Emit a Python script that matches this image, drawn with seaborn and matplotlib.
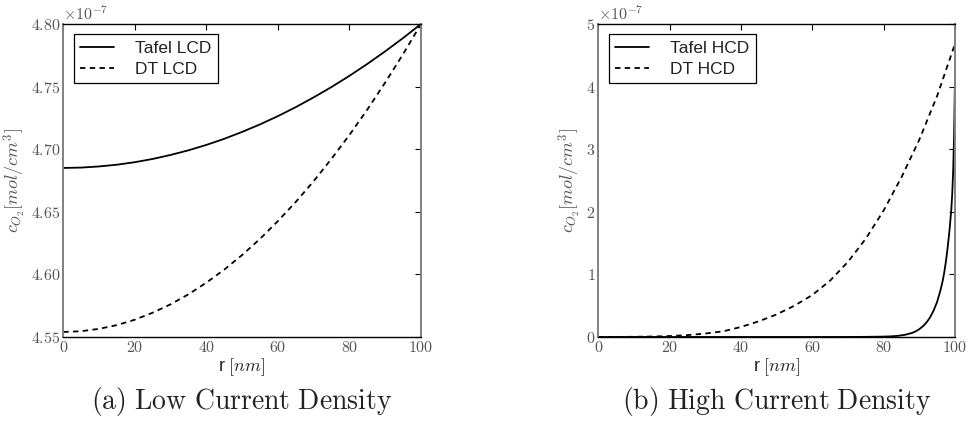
import numpy as np
import pandas as pd
import matplotlib
matplotlib.use("Agg")
import matplotlib.pyplot as plt
from matplotlib.ticker import FuncFormatter, FixedLocator
import seaborn as sns

# ---------------- data (concentration in units of 1e-7 mol/cm^3) ----------------
r_lcd = [0, 5, 10, 15, 20, 25, 30, 35, 40, 45, 50, 55, 60, 65, 70, 75, 80, 85, 90, 95, 100]
tafel_lcd = [4.6850, 4.6853, 4.6862, 4.6876, 4.6896, 4.6922, 4.6954, 4.6991, 4.7034, 4.7083,
             4.7138, 4.7198, 4.7264, 4.7336, 4.7414, 4.7497, 4.7586, 4.7681, 4.7782, 4.7888, 4.8000]
dt_lcd = [4.5540, 4.5546, 4.5565, 4.5595, 4.5638, 4.5694, 4.5761, 4.5841, 4.5934, 4.6038,
          4.6155, 4.6284, 4.6426, 4.6579, 4.6745, 4.6924, 4.7114, 4.7317, 4.7533, 4.7760, 4.8000]

r_dt_hcd = [0, 5, 10, 15, 20, 25, 30, 35, 40, 45, 50, 55, 60, 65, 70, 75, 80, 85, 90, 95, 100]
dt_hcd = [0.0, 0.001, 0.003, 0.007, 0.015, 0.03, 0.055, 0.09, 0.16, 0.25, 0.36, 0.50, 0.67,
          0.90, 1.20, 1.57, 2.02, 2.55, 3.15, 3.85, 4.68]

r_tafel_hcd = [0, 60, 70, 75, 80, 82, 84, 86, 88, 89, 90, 91, 92, 93, 94, 95, 96, 96.5, 97,
               97.5, 98, 98.5, 99, 99.25, 99.5, 99.75, 100]
tafel_hcd = [0.0, 0.0, 0.0005, 0.002, 0.006, 0.01, 0.018, 0.035, 0.065, 0.09, 0.125, 0.17,
             0.23, 0.31, 0.42, 0.56, 0.76, 0.88, 1.03, 1.22, 1.45, 1.72, 2.05, 2.3, 2.65, 3.2, 4.1]

SCALE = 1e-7
lcd_yticks = [4.55, 4.60, 4.65, 4.70, 4.75, 4.80]
hcd_yticks = [0, 1, 2, 3, 4, 5]
xticks = [0, 20, 40, 60, 80, 100]

labels_a = ["Tafel LCD", "DT LCD"]
labels_b = ["Tafel HCD", "DT HCD"]
captions = ["(a) Low Current Density", "(b) High Current Density"]

# ---------------- style ----------------
sns.set_style("white")
plt.rcParams["font.family"] = ["Liberation Sans", "DejaVu Sans"]
plt.rcParams["mathtext.fontset"] = "cm"

fig = plt.figure(figsize=(9.69, 4.25), dpi=100)
ax1 = fig.add_axes([0.0653, 0.2071, 0.3692, 0.7365])
ax2 = fig.add_axes([0.6174, 0.2071, 0.3681, 0.7365])

def frame(ax, yticks, fmt):
    ax.set_xlim(0, 100)
    ax.set_ylim(yticks[0] * SCALE, yticks[-1] * SCALE)
    ax.xaxis.set_major_locator(FixedLocator(xticks))
    ax.yaxis.set_major_locator(FixedLocator([v * SCALE for v in yticks]))
    ax.xaxis.set_major_formatter(FuncFormatter(lambda v, p: r"$\mathrm{%d}$" % round(v)))
    ax.yaxis.set_major_formatter(FuncFormatter(lambda v, p: (r"$\mathrm{" + fmt + "}$") % (v / SCALE)))
    ax.tick_params(direction="in", length=4, width=0.8, top=True, right=True,
                   labelsize=11.5, labelcolor="#555555", color="black", pad=2)
    for s in ["top", "bottom"]:
        ax.spines[s].set_color("black")
        ax.spines[s].set_linewidth(1.0)
    for s in ["left", "right"]:
        ax.spines[s].set_color("#808080")
        ax.spines[s].set_linewidth(1.4)
    ax.set_xlabel(r"r $[nm]$", fontsize=13, color="#222222", labelpad=1)
    ax.set_ylabel(r"$c_{O_2}[mol/cm^3]$", fontsize=13, color="#555555", labelpad=3)
    ax.text(0.0, 1.005, r"$\times10^{-7}$", transform=ax.transAxes, fontsize=11.5,
            color="#555555", ha="left", va="bottom")

def draw(ax, r1, y1, r2, y2, labels):
    d1 = pd.DataFrame({"r": r1, "c": np.array(y1) * SCALE})
    d2 = pd.DataFrame({"r": r2, "c": np.array(y2) * SCALE})
    sns.lineplot(data=d1, x="r", y="c", ax=ax, color="black", lw=1.3,
                 estimator=None, label=labels[0])
    sns.lineplot(data=d2, x="r", y="c", ax=ax, color="black", lw=1.3,
                 estimator=None, label=labels[1], dashes=False)
    ax.lines[1].set_dashes((3.0, 2.4))
    leg = ax.legend(loc="upper left", frameon=True, fancybox=False, edgecolor="black",
                    fontsize=12.5, handlelength=2.0, handletextpad=1.2, borderpad=0.35,
                    labelspacing=0.35, borderaxespad=0.6, framealpha=1)
    leg.get_frame().set_linewidth(0.9)
    for t in leg.get_texts():
        t.set_color("#222222")

draw(ax1, r_lcd, tafel_lcd, r_lcd, dt_lcd, labels_a)
draw(ax2, r_tafel_hcd, tafel_hcd, r_dt_hcd, dt_hcd, labels_b)
frame(ax1, lcd_yticks, "%.2f")
frame(ax2, hcd_yticks, "%d")

for ax, cap in zip([ax1, ax2], captions):
    pos = ax.get_position()
    fig.text((pos.x0 + pos.x1) / 2, 1 - 401 / 425, r"$\mathrm{%s}$" % cap.replace(" ", r"\ "),
             fontsize=20, color="#222222", ha="center", va="center")

fig.savefig("out.png", dpi=100)
